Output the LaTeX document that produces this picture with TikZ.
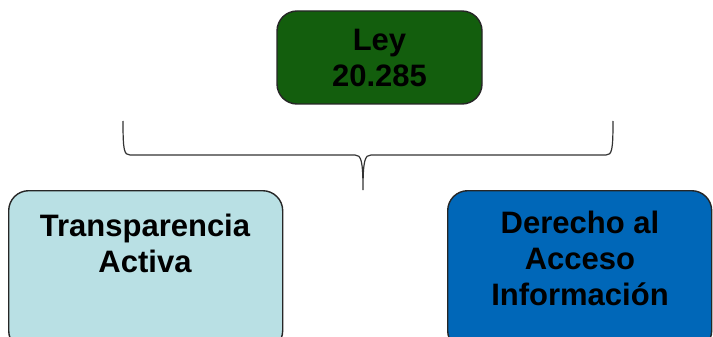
\documentclass[tikz,border=0pt]{standalone}
\usepackage{fontspec}
\setmainfont{Liberation Sans}
\usepackage{tikz}
\usetikzlibrary{positioning}
\definecolor{leygreen}{RGB}{19,94,13}
\definecolor{activablue}{RGB}{185,224,228}
\definecolor{accesoblue}{RGB}{0,103,184}

\begin{document}
\begin{tikzpicture}[x=1pt,y=-1pt,
    box/.style={draw=black!85,line width=1.4pt,rounded corners=20pt,inner sep=0pt},
    txt/.style={align=center,font=\fontsize{31}{36}\selectfont\bfseries,text=black}]
    \useasboundingbox (0,0) rectangle (713,337);
    \clip (0,0) rectangle (713,337);
    % top box
    \node[box,fill=leygreen,minimum width=205pt,minimum height=93pt] (ley) at (379.5,57.5) {};
    \node[txt] (leytxt) at (ley.center) {Ley\\20.285};
    % brace
    \coordinate (bl) at (123,121);
    \coordinate (br) at (613,121);
    \coordinate (tip) at (363,190);
    \draw[line width=1.2pt,black!80] (bl) .. controls (123,150) and (124,155) .. (130,155)
      -- (355,155) .. controls (361,155) and (363,160) .. (tip)
      .. controls (363,160) and (365,155) .. (371,155)
      -- (606,155) .. controls (612,155) and (613,150) .. (br);
    % bottom boxes
    \node[box,fill=activablue,minimum width=274pt,minimum height=160pt,anchor=north west] (activa) at (8,190) {};
    \node[txt] (activatxt) at (145,243.5) {Transparencia\\Activa};
    \node[box,fill=accesoblue,minimum width=264pt,minimum height=160pt,anchor=north west] (acceso) at (447,190) {};
    \node[txt] (accesotxt) at (580,258) {Derecho al\\Acceso\\Información};
\end{tikzpicture}
\end{document}
